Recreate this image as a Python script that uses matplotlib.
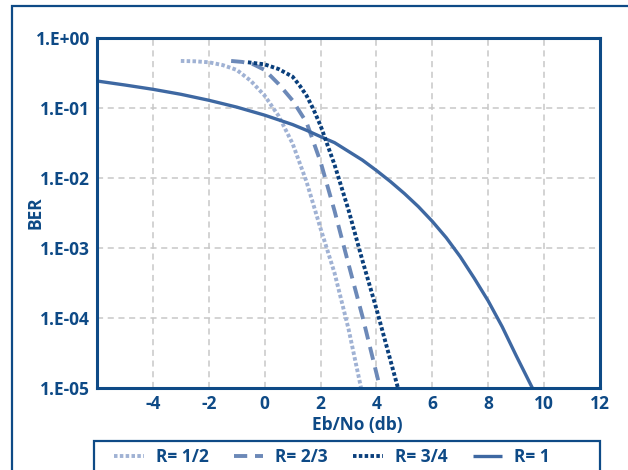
import matplotlib
matplotlib.use("Agg")
import matplotlib.pyplot as plt
from matplotlib.patches import Rectangle
from matplotlib.ticker import FixedLocator, FixedFormatter, NullLocator

# ---- data ----
x_half = [-3, -2.5, -2, -1.5, -1, -0.5, 0, 0.5, 1, 1.5, 2, 2.5, 3, 3.45]
y_half = [0.47, 0.465, 0.45, 0.41, 0.35, 0.245, 0.15, 0.077, 0.031, 0.0088,
          0.0019, 4.4e-4, 7e-5, 1e-5]

x_two3 = [-1.2, -0.8, -0.4, 0, 0.5, 1, 1.5, 2, 2.5, 3, 3.5, 4.13]
y_two3 = [0.47, 0.455, 0.42, 0.35, 0.22, 0.128, 0.062, 0.017, 3.4e-3, 5.9e-4,
          1.05e-4, 1e-5]

x_three4 = [-0.6, 0, 0.5, 1, 1.25, 1.5, 1.75, 2, 2.5, 3, 3.5, 4, 4.77]
y_three4 = [0.45, 0.42, 0.36, 0.28, 0.21, 0.15, 0.095, 0.056, 0.0155, 3.5e-3,
            6.6e-4, 1.35e-4, 1e-5]

x_one = [-6, -5, -4, -3, -2, -1, 0, 1, 1.5, 2, 2.5, 3, 3.5, 4, 4.5, 5, 5.5,
         6, 6.5, 7, 7.5, 8, 8.5, 9, 9.58]
y_one = [0.243, 0.213, 0.185, 0.157, 0.129, 0.103, 0.079, 0.058, 0.048, 0.039,
         0.032, 0.024, 0.018, 0.0128, 0.0089, 0.0060, 0.0039, 2.4e-3, 1.4e-3,
         7.5e-4, 3.7e-4, 1.75e-4, 7.5e-5, 2.9e-5, 1e-5]

series_labels = ["R= 1/2", "R= 2/3", "R= 3/4", "R= 1"]
x_ticks = [-4, -2, 0, 2, 4, 6, 8, 10, 12]
x_tick_labels = ["-4", "-2", "0", "2", "4", "6", "8", "10", "12"]
y_ticks = [1, 1e-1, 1e-2, 1e-3, 1e-4, 1e-5]
y_tick_labels = ["1.E+00", "1.E-01", "1.E-02", "1.E-03", "1.E-04", "1.E-05"]
x_label = "Eb/No (db)"
y_label = "BER"

# ---- style ----
NAVY = "#0e4a86"
C_HALF = "#a0b2d4"
C_TWO3 = "#6c89b8"
C_THREE4 = "#0a3f7c"
C_ONE = "#3e68a2"
FONT = "Open Sans"
FS = 12.5

plt.rcParams["font.family"] = [FONT, "DejaVu Sans"]

W, H = 628, 470
fig = plt.figure(figsize=(W / 100, H / 100), dpi=100)

# outer frame
fig.patches.append(Rectangle((12 / W, -0.2), 1.2, 1.2 - 6 / H, transform=fig.transFigure,
                             fill=False, edgecolor=NAVY, linewidth=1.6, zorder=0))

L, R_, T, B = 97, 600, 38, 388
ax = fig.add_axes([L / W, 1 - B / H, (R_ - L) / W, (B - T) / H])

ax.plot(x_half, y_half, color=C_HALF, lw=2.8, linestyle=(0, (0.9, 0.6)),
        dash_capstyle="butt", label=series_labels[0], zorder=3)
ax.plot(x_two3, y_two3, color=C_TWO3, lw=2.8, linestyle=(0, (3.4, 2.0)),
        dash_capstyle="butt", label=series_labels[1], zorder=3)
ax.plot(x_three4, y_three4, color=C_THREE4, lw=2.8, linestyle=(0, (0.9, 0.6)),
        dash_capstyle="butt", label=series_labels[2], zorder=4)
ax.plot(x_one, y_one, color=C_ONE, lw=2.4, linestyle="-",
        solid_capstyle="butt", label=series_labels[3], zorder=3)

ax.set_yscale("log")
ax.set_xlim(-6, 12)
ax.set_ylim(1e-5, 1)

ax.xaxis.set_major_locator(FixedLocator(x_ticks))
ax.xaxis.set_major_formatter(FixedFormatter(x_tick_labels))
ax.yaxis.set_major_locator(FixedLocator(y_ticks))
ax.yaxis.set_major_formatter(FixedFormatter(y_tick_labels))
ax.yaxis.set_minor_locator(NullLocator())
ax.xaxis.set_minor_locator(NullLocator())

ax.tick_params(axis="both", length=0, pad=5, labelsize=FS, labelcolor=NAVY)
for lab in ax.get_xticklabels() + ax.get_yticklabels():
    lab.set_fontweight("bold")

ax.grid(True, which="major", color="#c8c8c8", linestyle=(0, (4, 3)), linewidth=1.1, zorder=1)
ax.set_axisbelow(True)

for s in ax.spines.values():
    s.set_color(NAVY)
    s.set_linewidth(2.2)
    s.set_zorder(5)

fig.text(357 / W, 1 - 425 / H, x_label, ha="center", va="center",
         fontsize=FS, fontweight="bold", color=NAVY)
fig.text(35 / W, 1 - 213 / H, y_label, ha="center", va="center", rotation=90,
         fontsize=FS, fontweight="bold", color=NAVY)

# legend box
fig.patches.append(Rectangle((94 / W, 1 - 472 / H), (600 - 94) / W, (472 - 441.5) / H,
                             transform=fig.transFigure, fill=False, edgecolor=NAVY,
                             linewidth=1.6, zorder=2))
handles, labels = ax.get_legend_handles_labels()
leg = fig.legend(handles, labels, loc="center left", bbox_to_anchor=(114 / W, 1 - 457 / H),
                 ncol=4, frameon=False, handlelength=1.7, handletextpad=0.7,
                 columnspacing=1.45, borderaxespad=0, borderpad=0,
                 prop={"family": FONT, "weight": "bold", "size": FS})
for t in leg.get_texts():
    t.set_color(NAVY)

fig.savefig("out.png", dpi=100)
